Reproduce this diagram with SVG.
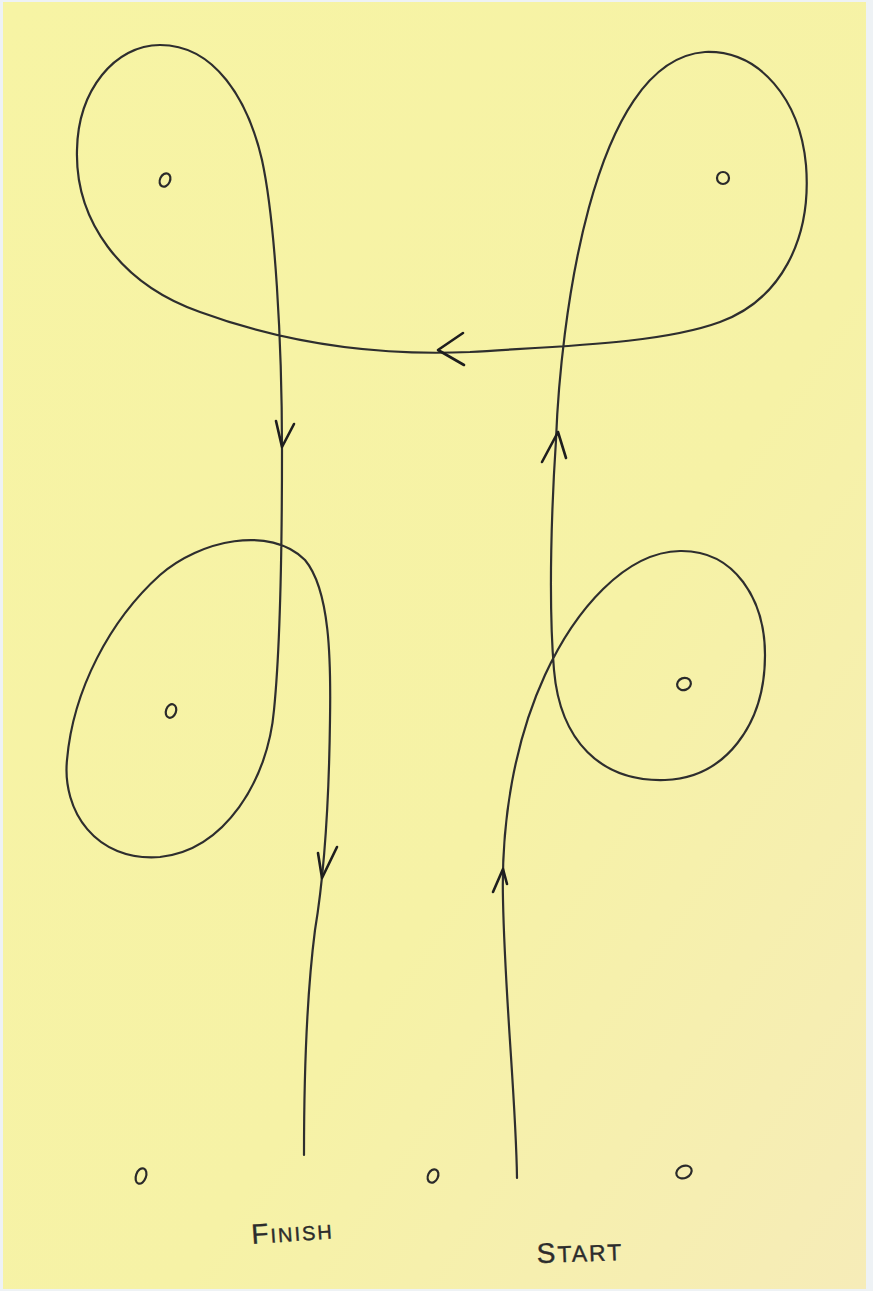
<svg xmlns="http://www.w3.org/2000/svg" width="873" height="1291" viewBox="0 0 873 1291">
<defs>
<linearGradient id="paper" x1="0" y1="0" x2="1" y2="1">
<stop offset="0" stop-color="#f7f4a4"/>
<stop offset="0.6" stop-color="#f6f2a6"/>
<stop offset="1" stop-color="#f6ecb8"/>
</linearGradient>
<style>
.route{fill:none;stroke:#2e2e2e;stroke-width:2.2;stroke-linecap:round;stroke-linejoin:round}
.tip{fill:none;stroke:#1e1e1e;stroke-width:2.6;stroke-linecap:round;stroke-linejoin:round}
.cone{fill:none;stroke:#2a2a2a;stroke-width:2.2}
.lbl{font-family:"Liberation Sans",Arial,sans-serif;fill:#2c2c2c;stroke:#2c2c2c;stroke-width:0.4;letter-spacing:2px}
</style>
</defs>
<rect width="873" height="1291" fill="#eef2f5"/>
<rect x="3" y="2" width="863" height="1287" fill="url(#paper)"/>

<g id="connectors">
<path class="route" d="M517,1178 C516,1100 505,1000 503,900 C501,820 515,740 545,675 C575,610 625,552 680,551 C735,550 765,600 765,655 C765,725 725,778 665,780 C600,782 560,740 554,670 C548,600 552,500 556,440 C560,330 590,60 705,52 C760,50 800,100 806,165 C812,240 780,300 720,322 C660,344 560,346 470,352 C380,356 290,345 200,312 C120,284 75,220 77,150 C78,90 115,45 160,45 C215,45 248,100 262,160 C275,220 282,340 282,450 C282,560 280,650 274,710 C268,780 225,850 160,857 C95,862 62,810 67,760 C73,690 110,620 160,575 C200,540 270,525 305,560 C330,590 331,660 330,720 C329,800 325,870 315,930 C306,1000 304,1080 304,1155"/>
<polyline class="tip" points="463,333 438,350 464,365"/>
<polyline class="tip" points="276,421 282,447 294,424"/>
<polyline class="tip" points="542,462 558,432 566,458"/>
<polyline class="tip" points="318,853 322,878 337,847"/>
<polyline class="tip" points="493,892 503,869 507,884"/>
</g>

<g id="cone-top-left"><ellipse class="cone" cx="165" cy="180" rx="5" ry="7" transform="rotate(25 165 180)"/></g>
<g id="cone-top-right"><ellipse class="cone" cx="723" cy="178" rx="6" ry="6"/></g>
<g id="cone-mid-left"><ellipse class="cone" cx="171" cy="711" rx="5" ry="7" transform="rotate(20 171 711)"/></g>
<g id="cone-mid-right"><ellipse class="cone" cx="684" cy="684" rx="7" ry="6" transform="rotate(-20 684 684)"/></g>
<g id="cone-bottom-left"><ellipse class="cone" cx="141" cy="1176" rx="5" ry="8" transform="rotate(20 141 1176)"/></g>
<g id="cone-bottom-mid"><ellipse class="cone" cx="433" cy="1176" rx="5" ry="7" transform="rotate(25 433 1176)"/></g>
<g id="cone-bottom-right"><ellipse class="cone" cx="684" cy="1172" rx="8" ry="6" transform="rotate(-25 684 1172)"/></g>

<g id="label-finish"><text class="lbl" x="252" y="1244" transform="rotate(-4 252 1244)"><tspan font-size="28">F</tspan><tspan font-size="20">INISH</tspan></text></g>
<g id="label-start"><text class="lbl" x="537" y="1263" transform="rotate(-2 537 1263)"><tspan font-size="28">S</tspan><tspan font-size="23">TART</tspan></text></g>
</svg>
